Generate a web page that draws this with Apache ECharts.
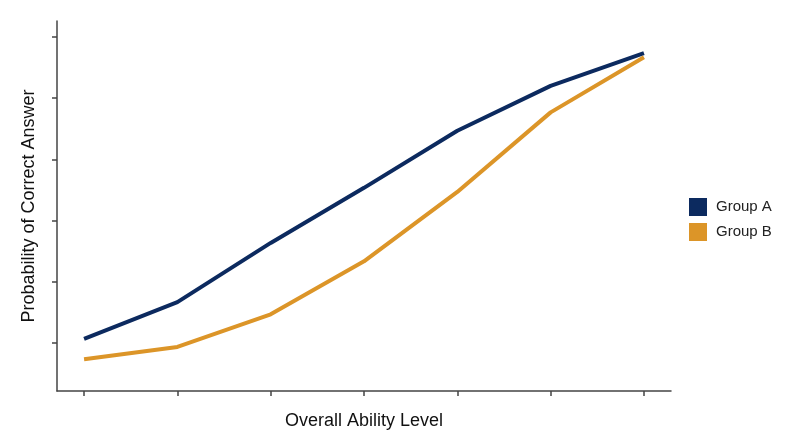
<!DOCTYPE html>
<html>
<head>
<meta charset="utf-8">
<script src="https://cdn.jsdelivr.net/npm/echarts@6/dist/echarts.min.js"></script>
<style>
  html, body { margin: 0; padding: 0; background: #fff; }
  #chart { width: 800px; height: 447px; }
</style>
</head>
<body>
<div id="chart"></div>
<script>
// ability levels (x positions of the points)
var abilityLevels = [1, 2, 3, 4, 5, 6, 7];
// probability values
var groupA = [0.11, 0.20, 0.345, 0.48, 0.62, 0.73, 0.81];
var groupB = [0.06, 0.09, 0.17, 0.30, 0.47, 0.665, 0.80];
// tick positions (no labels are shown)
var yTicks = [0.1, 0.25, 0.4, 0.55, 0.7, 0.85];

function pairs(xs, ys) {
    return xs.map(function (x, i) { return [x, ys[i]]; });
}

var dom = document.getElementById('chart');
var myChart = echarts.init(dom);
var axisColor = '#444';

var option = {
    backgroundColor: '#fff',
    animation: false,
    textStyle: { fontFamily: 'Liberation Sans, Arial, sans-serif' },
    grid: { left: 57, right: 129, top: 21, bottom: 56 },
    legend: {
        orient: 'vertical',
        left: 689,
        top: 198,
        padding: 0,
        itemWidth: 18,
        itemHeight: 18,
        itemGap: 7,
        icon: 'rect',
        textStyle: { fontSize: 15, color: '#222', padding: [0, 0, 0, 4] },
        data: ['Group A', 'Group B']
    },
    xAxis: {
        type: 'value',
        min: 0.71,
        max: 7.29,
        name: 'Overall Ability Level',
        nameLocation: 'middle',
        nameGap: 21,
        nameTextStyle: { fontSize: 18, color: '#111' },
        axisLine: { show: true, onZero: false, lineStyle: { color: axisColor, width: 1.5 } },
        axisTick: { show: true, length: 5, customValues: abilityLevels, lineStyle: { color: axisColor, width: 1.5 } },
        axisLabel: { show: false },
        splitLine: { show: false }
    },
    yAxis: {
        type: 'value',
        min: -0.018,
        max: 0.889,
        name: 'Probability of Correct Answer',
        nameLocation: 'middle',
        nameGap: 19,
        nameTextStyle: { fontSize: 18, color: '#111' },
        axisLine: { show: true, lineStyle: { color: axisColor, width: 1.5 } },
        axisTick: { show: true, length: 5, customValues: yTicks, lineStyle: { color: axisColor, width: 1.5 } },
        axisLabel: { show: false },
        splitLine: { show: false }
    },
    series: [
        {
            name: 'Group A',
            type: 'line',
            data: pairs(abilityLevels, groupA),
            showSymbol: false,
            symbol: 'none',
            itemStyle: { color: '#0c2a5f' },
            lineStyle: { color: '#0c2a5f', width: 4 },
            z: 3
        },
        {
            name: 'Group B',
            type: 'line',
            data: pairs(abilityLevels, groupB),
            showSymbol: false,
            symbol: 'none',
            itemStyle: { color: '#dc9528' },
            lineStyle: { color: '#dc9528', width: 4 },
            z: 4
        }
    ]
};

myChart.setOption(option, true);
</script>
</body>
</html>
